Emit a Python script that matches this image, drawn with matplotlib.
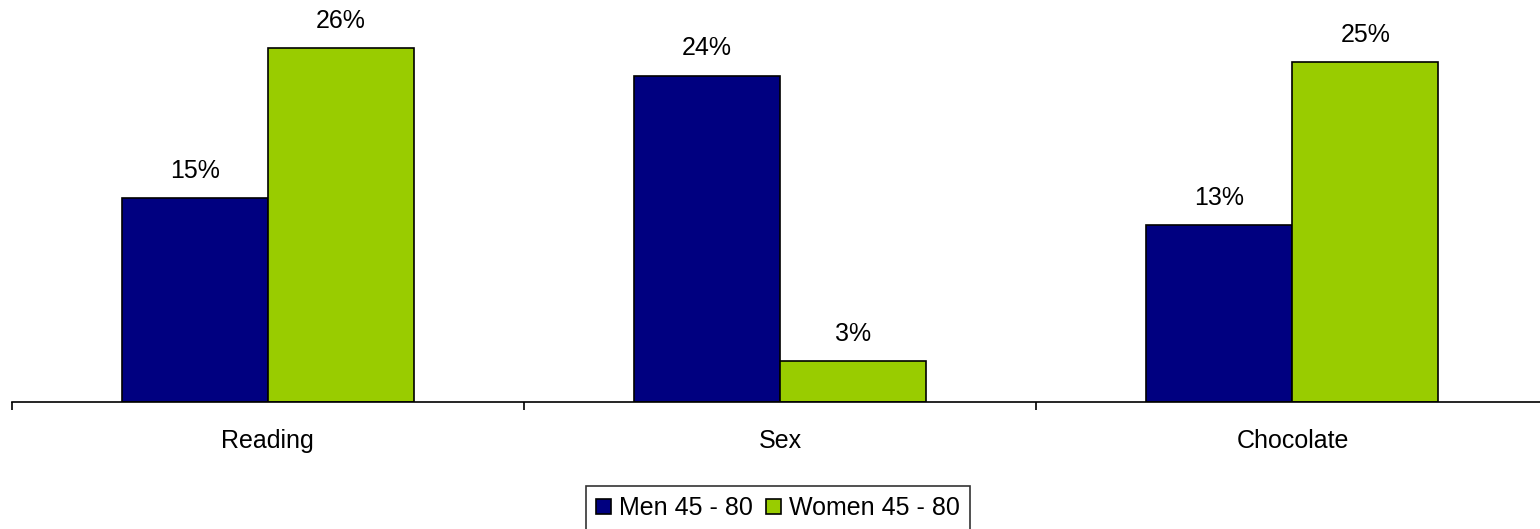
import matplotlib
import matplotlib.pyplot as plt
import numpy as np

matplotlib.use("Agg")
plt.rcParams["font.family"] = ["Liberation Sans", "DejaVu Sans"]

categories = ["Reading", "Sex", "Chocolate"]
men = [15, 24, 13]
women = [26, 3, 25]
series_names = ["Men 45 - 80", "Women 45 - 80"]

W, H = 1540, 529
fig = plt.figure(figsize=(W / 100, H / 100), dpi=100)
# axis line sits at y=402 px, the category band is ~512 px wide
ax = fig.add_axes([11.7 / W, 1 - 402 / H, 3 * 512.3 / W, 402 / H])

x = np.arange(len(categories))
w = 0.285
b1 = ax.bar(x - w / 2, men, w, color="#000080", edgecolor="black", linewidth=1.2, label=series_names[0])
b2 = ax.bar(x + w / 2, women, w, color="#99CC00", edgecolor="black", linewidth=1.2, label=series_names[1])

for bars in (b1, b2):
    for bar in bars:
        ax.annotate(f"{bar.get_height():.0f}%",
                    (bar.get_x() + bar.get_width() / 2, bar.get_height()),
                    xytext=(0, 14.5), textcoords="offset points",
                    ha="center", va="baseline", fontsize=18)

ax.set_xlim(-0.5, len(categories) - 0.5)
ax.set_ylim(0, 29.56)
for s in ("top", "right", "left"):
    ax.spines[s].set_visible(False)
ax.spines["bottom"].set_linewidth(1.2)
ax.set_yticks([])

ax.set_xticks(np.arange(-0.5, len(categories)), minor=False)
ax.set_xticklabels([])
ax.tick_params(axis="x", which="major", direction="out", length=6, width=1.2)
ax.set_xticks(x, minor=True)
ax.set_xticklabels(categories, minor=True, fontsize=18)
ax.tick_params(axis="x", which="minor", length=0, pad=19.5)

leg = fig.legend(loc="upper center", bbox_to_anchor=(778 / W, 1 - 486 / H), ncol=2,
                 fontsize=18, frameon=True, fancybox=False, shadow=False,
                 handlelength=0.6, handleheight=0.55, handletextpad=0.3,
                 columnspacing=0.55, borderpad=0.4, borderaxespad=0)
leg.get_frame().set_edgecolor("black")
leg.get_frame().set_linewidth(1.2)

fig.savefig("out.png", dpi=100)
